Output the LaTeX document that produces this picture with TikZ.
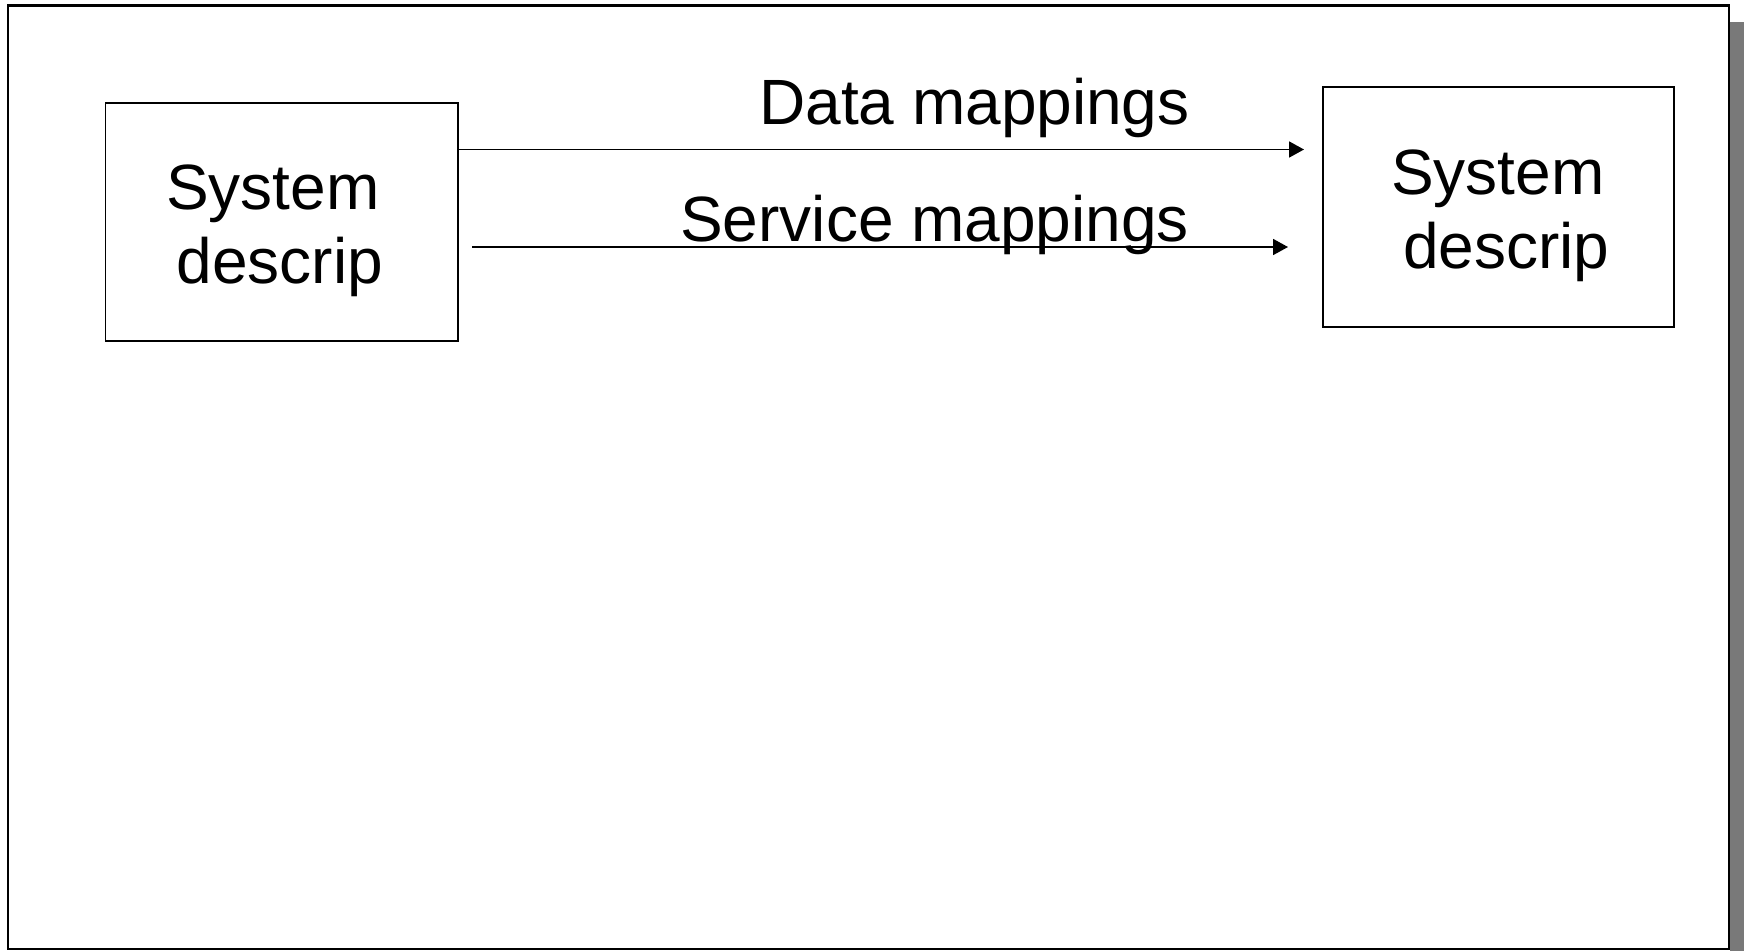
\documentclass[tikz,border=0pt]{standalone}
\usepackage{fontspec}
\setmainfont{Liberation Sans}
\usetikzlibrary{arrows.meta}
\begin{document}
\begin{tikzpicture}[x=1pt,y=-1pt,
  frameline/.style={draw=black,line width=2.2pt},
  sysbox/.style={draw=black,line width=1.8pt,fill=white},
  lbl/.style={inner sep=0pt,anchor=base west,font=\fontsize{64}{70}\selectfont},
  conn/.style={draw=black,line width=1.8pt,-{Triangle[length=15pt,width=16pt]}}]
\useasboundingbox (0,0) rectangle (1744,951);
\fill[white] (0,0) rectangle (1744,951);
% shadow
\fill[gray!95!black] (1730,22) rectangle (1744,951);
% frame
\draw[frameline,fill=white] (8,5.5) rectangle (1729,949);
% boxes
\node[sysbox,minimum width=352.5pt,minimum height=238pt,inner sep=0pt,anchor=north west] (A) at (104.5,102) {};
\node[sysbox,minimum width=351pt,minimum height=240pt,inner sep=0pt,anchor=north west] (B) at (1322,86) {};
% box texts
\node[lbl] (a1) at (166,209) {System};
\node[lbl] (a2) at (176.5,283) {descrip};
\node[lbl] (b1) at (1391,194) {System};
\node[lbl] (b2) at (1403,268) {descrip};
% arrow labels
\node[lbl] (dm) at (759,124.5) {Data mappings};
\node[lbl] (sm) at (680,241) {Service mappings};
% connectors
\coordinate (e1) at (1304,149.5);
\coordinate (s2) at (472,247);
\coordinate (e2) at (1288,247);
\draw[conn] (A.east |- e1) -- (e1);
\draw[conn] (s2) -- (e2);
\end{tikzpicture}
\end{document}
